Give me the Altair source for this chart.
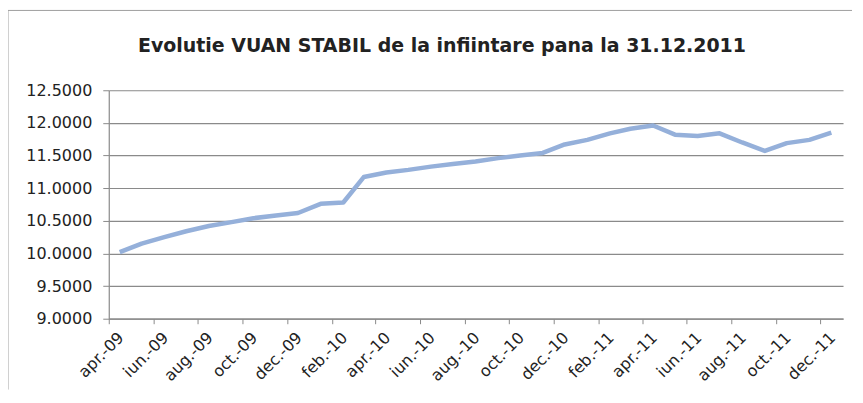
import altair as alt
import pandas as pd

months = ["2009-04-16", "2009-05-16", "2009-06-16", "2009-07-16", "2009-08-16", "2009-09-16",
          "2009-10-16", "2009-11-16", "2009-12-16", "2010-01-16", "2010-02-16", "2010-03-16",
          "2010-04-16", "2010-05-16", "2010-06-16", "2010-07-16", "2010-08-16", "2010-09-16",
          "2010-10-16", "2010-11-16", "2010-12-16", "2011-01-16", "2011-02-16", "2011-03-16",
          "2011-04-16", "2011-05-16", "2011-06-16", "2011-07-16", "2011-08-16", "2011-09-16",
          "2011-10-16", "2011-11-16", "2011-12-16"]
values = [10.02, 10.15, 10.25, 10.34, 10.42, 10.48,
          10.54, 10.58, 10.62, 10.76, 10.78, 11.17,
          11.24, 11.28, 11.33, 11.37, 11.41, 11.46,
          11.50, 11.54, 11.67, 11.74, 11.84, 11.91,
          11.96, 11.82, 11.80, 11.84, 11.70, 11.57,
          11.69, 11.74, 11.85]

tick_dates = ["2009-04-01", "2009-06-01", "2009-08-01", "2009-10-01", "2009-12-01",
              "2010-02-01", "2010-04-01", "2010-06-01", "2010-08-01", "2010-10-01", "2010-12-01",
              "2011-02-01", "2011-04-01", "2011-06-01", "2011-08-01", "2011-10-01", "2011-12-01"]
tick_labels = ["apr.-09", "iun.-09", "aug.-09", "oct.-09", "dec.-09",
               "feb.-10", "apr.-10", "iun.-10", "aug.-10", "oct.-10", "dec.-10",
               "feb.-11", "apr.-11", "iun.-11", "aug.-11", "oct.-11", "dec.-11"]
y_ticks = [9.0, 9.5, 10.0, 10.5, 11.0, 11.5, 12.0, 12.5]

title = "Evolutie VUAN STABIL de la infiintare pana la 31.12.2011"

df = pd.DataFrame({"date": months, "value": values})
one = pd.DataFrame({"t": [title]})

tick_ms = [int(pd.Timestamp(d, tz="UTC").timestamp() * 1000) for d in tick_dates]
label_map = ", ".join(f"'{d[:7]}': '{l}'" for d, l in zip(tick_dates, tick_labels))
label_expr = "{" + label_map + "}[utcFormat(datum.value, '%Y-%m')]"

domain_ms = [int(pd.Timestamp("2009-04-01", tz="UTC").timestamp() * 1000),
             int(pd.Timestamp("2012-01-01", tz="UTC").timestamp() * 1000)]

FONT = "DejaVu Sans"
GRAY = "#8a8a8a"

line = alt.Chart(df).mark_line(color="#95b0da", strokeWidth=4.5, strokeJoin="round").encode(
    x=alt.X("date:T",
            scale=alt.Scale(type="utc", domain=domain_ms),
            axis=alt.Axis(values=tick_ms, labelExpr=label_expr, title=None, grid=False,
                          labelAngle=-45, labelAlign="right", labelBaseline="middle",
                          labelFont=FONT, labelFontSize=16, labelColor="#222222",
                          labelPadding=11, labelOffset=12,
                          tickSize=5, tickColor=GRAY,
                          domainColor=GRAY, domainWidth=1.2, labelOverlap=False)),
    y=alt.Y("value:Q",
            scale=alt.Scale(domain=[9.0, 12.5], nice=False, zero=False),
            axis=alt.Axis(values=y_ticks, format=".4f", title=None,
                          labelFont=FONT, labelFontSize=16, labelColor="#222222",
                          labelPadding=11, tickSize=6, tickColor=GRAY,
                          domainColor=GRAY, domainWidth=1.2,
                          grid=True, gridColor=GRAY, gridWidth=1.2)),
)

frame_left = alt.Chart(one).mark_rule(color="#a0a0a0", strokeWidth=1, clip=False).encode(
    x=alt.value(-101), y=alt.value(-80), y2=alt.value(300)
)
frame_top = alt.Chart(one).mark_rule(color="#a0a0a0", strokeWidth=1, clip=False).encode(
    x=alt.value(-101), x2=alt.value(745), y=alt.value(-80), y2=alt.value(-80)
)

title_mark = alt.Chart(one).mark_text(
    font=FONT, fontSize=19, fontWeight="bold", color="#222222",
    align="center", baseline="middle", clip=False
).encode(x=alt.value(334), y=alt.value(-44), text="t:N")

chart = alt.layer(frame_left, frame_top, line, title_mark).properties(
    width=736, height=229,
    autosize=alt.AutoSizeParams(type="none"),
    padding={"left": 101, "top": 82, "right": 12, "bottom": 71},
    background="white",
).configure_view(stroke=None)

chart.save("out.html", embed_options={"renderer": "svg", "actions": False})
